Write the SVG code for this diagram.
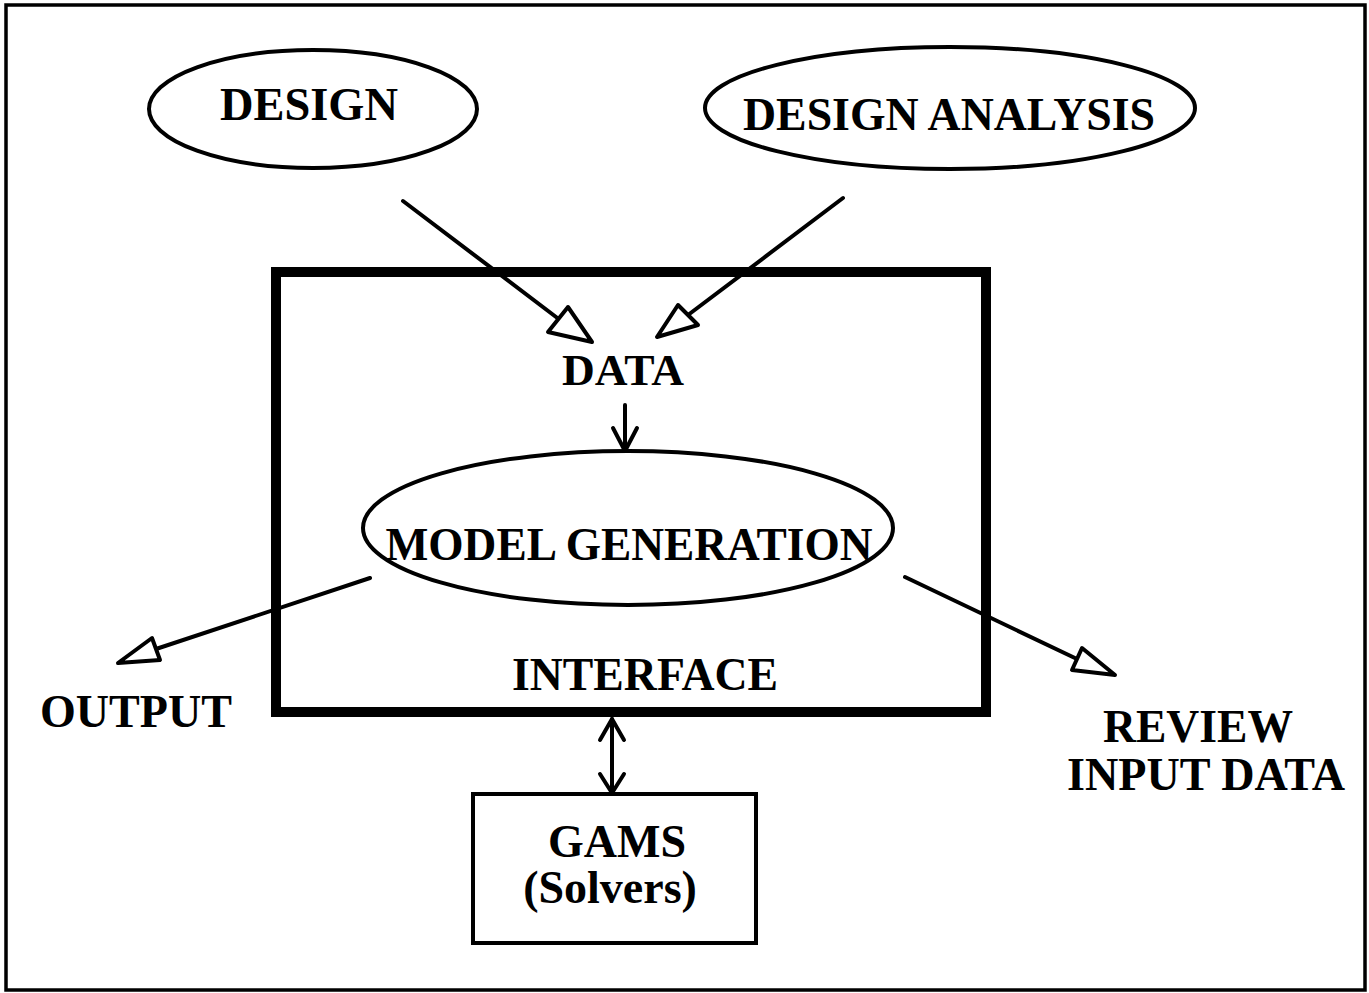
<svg xmlns="http://www.w3.org/2000/svg" width="1369" height="993" viewBox="0 0 1369 993">
<style>
.t{font-family:"Liberation Serif","Times New Roman",serif;font-weight:bold;fill:#000;text-anchor:middle}
.s{fill:none;stroke:#000;stroke-width:4;stroke-linejoin:round;stroke-linecap:round}
.h{fill:#fff;stroke:#000;stroke-width:4;stroke-linejoin:round}
</style>
<rect width="1369" height="993" fill="#fff"/>
<rect id="frame" x="6" y="5" width="1359" height="985" fill="none" stroke="#000" stroke-width="3.5"/>
<g id="interface">
<rect x="276" y="272" width="710" height="440" fill="none" stroke="#000" stroke-width="10"/>
<text class="t" x="645" y="690" font-size="46" textLength="266" lengthAdjust="spacingAndGlyphs">INTERFACE</text>
</g>
<g id="design">
<ellipse cx="313" cy="109" rx="164" ry="59" fill="none" stroke="#000" stroke-width="4"/>
<text class="t" x="309" y="120" font-size="46" textLength="178" lengthAdjust="spacingAndGlyphs">DESIGN</text>
</g>
<g id="design-analysis">
<ellipse cx="950" cy="108" rx="245" ry="61" fill="none" stroke="#000" stroke-width="4"/>
<text class="t" x="949" y="130" font-size="46" textLength="412" lengthAdjust="spacingAndGlyphs">DESIGN ANALYSIS</text>
</g>
<g id="data">
<text class="t" x="623" y="385" font-size="44" textLength="122" lengthAdjust="spacingAndGlyphs">DATA</text>
</g>
<g id="model-generation">
<ellipse cx="628" cy="528" rx="265" ry="77" fill="none" stroke="#000" stroke-width="4"/>
<text class="t" x="629" y="560" font-size="46" textLength="487" lengthAdjust="spacingAndGlyphs">MODEL GENERATION</text>
</g>
<g id="output">
<text class="t" x="136" y="727" font-size="46" textLength="192" lengthAdjust="spacingAndGlyphs">OUTPUT</text>
</g>
<g id="review">
<text class="t" x="1198" y="742" font-size="46" textLength="190" lengthAdjust="spacingAndGlyphs">REVIEW</text>
<text class="t" x="1206" y="790" font-size="46" textLength="278" lengthAdjust="spacingAndGlyphs">INPUT DATA</text>
</g>
<g id="gams">
<rect x="473" y="794" width="283" height="149" fill="none" stroke="#000" stroke-width="4"/>
<text class="t" x="617" y="857" font-size="46">GAMS</text>
<text class="t" x="610" y="903" font-size="46">(Solvers)</text>
</g>
<g id="connectors">
<line class="s" x1="403" y1="201" x2="560" y2="320"/>
<polygon class="h" points="568,307 548,332 592,342"/>
<line class="s" x1="843" y1="198" x2="688" y2="315"/>
<polygon class="h" points="678,305 698,325 657,337"/>
<line class="s" x1="625" y1="405" x2="625" y2="451"/>
<polyline class="s" points="613,428 625,451 637,428"/>
<line class="s" x1="370" y1="578" x2="156" y2="649"/>
<polygon class="h" points="152,638 160,660 118,663"/>
<line class="s" x1="905" y1="577" x2="1077" y2="659"/>
<polygon class="h" points="1082,648 1072,670 1115,675"/>
<line class="s" x1="612" y1="719" x2="612" y2="793"/>
<polyline class="s" points="600,740 612,719 624,740"/>
<polyline class="s" points="600,774 612,793 624,774"/>
</g>
</svg>
